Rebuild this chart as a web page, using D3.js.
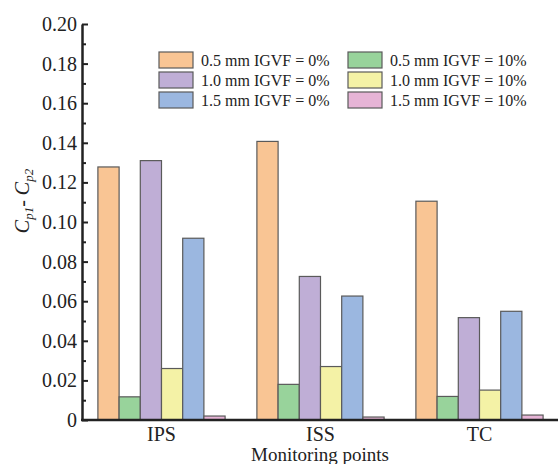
<!DOCTYPE html>
<html>
<head>
<meta charset="utf-8">
<script src="https://cdn.jsdelivr.net/npm/d3@7"></script>
<style>
  body { margin: 0; background: #fff; }
  svg text { font-family: "Liberation Serif", "Times New Roman", serif; fill: #222; }
</style>
</head>
<body>
<div id="chart"></div>
<script>
// monitoring points on the x axis
const categories = ['IPS', 'ISS', 'TC'];

// one array per bar series, in drawing order inside each group
const mm05_igvf0 = [0.1278, 0.1407, 0.1105];
const mm05_igvf10 = [0.0117, 0.0180, 0.0119];
const mm10_igvf0 = [0.1310, 0.0725, 0.0517];
const mm10_igvf10 = [0.0260, 0.0270, 0.0151];
const mm15_igvf0 = [0.0918, 0.0626, 0.0549];
const mm15_igvf10 = [0.0020, 0.0015, 0.0025];

const seriesNames = [
  '0.5 mm IGVF = 0%', '0.5 mm IGVF = 10%',
  '1.0 mm IGVF = 0%', '1.0 mm IGVF = 10%',
  '1.5 mm IGVF = 0%', '1.5 mm IGVF = 10%'
];
const yTicks = [0, 0.02, 0.04, 0.06, 0.08, 0.10, 0.12, 0.14, 0.16, 0.18, 0.20];

const seriesValues = [mm05_igvf0, mm05_igvf10, mm10_igvf0, mm10_igvf10, mm15_igvf0, mm15_igvf10];
const colors = ['#f9c594', '#98d39b', '#bfaed6', '#f4f2a6', '#9bb7e0', '#e6b4d6'];

const w = 558, h = 464;
const mLeft = 82, mRight = 559, mTop = 24, mBottom = 420;

const svg = d3.select('#chart').append('svg')
  .attr('width', w)
  .attr('height', h);

const x0 = d3.scaleBand()
  .domain(categories)
  .range([mLeft, mRight])
  .paddingInner(0.2)
  .paddingOuter(0.1);

const x1 = d3.scaleBand()
  .domain(d3.range(seriesNames.length))
  .range([0, x0.bandwidth()]);

const y = d3.scaleLinear()
  .domain([0, 0.2])
  .range([mBottom, mTop]);

// bars
const groups = svg.selectAll('g.group')
  .data(categories)
  .enter()
  .append('g')
  .attr('class', 'group')
  .attr('transform', d => 'translate(' + x0(d) + ',0)');

groups.selectAll('rect')
  .data((d, ci) => seriesValues.map((vals, si) => ({ si: si, v: vals[ci] })))
  .enter()
  .append('rect')
  .attr('x', d => x1(d.si))
  .attr('y', d => y(d.v))
  .attr('width', x1.bandwidth())
  .attr('height', d => y(0) - y(d.v))
  .attr('fill', d => colors[d.si])
  .attr('stroke', '#5a5a5a')
  .attr('stroke-width', 1.2);

// y axis, minor then major ticks, pointing inward
svg.append('g')
  .attr('transform', 'translate(' + mLeft + ',0)')
  .call(d3.axisLeft(y).tickValues(d3.range(0.01, 0.2, 0.02)).tickSize(-4).tickFormat(''))
  .call(g => g.select('.domain').remove())
  .call(g => g.selectAll('line').attr('stroke', '#222').attr('stroke-width', 2));

const yAxis = svg.append('g')
  .attr('transform', 'translate(' + mLeft + ',0)')
  .call(d3.axisLeft(y).tickValues(yTicks).tickSizeInner(-6).tickSizeOuter(0).tickPadding(5)
    .tickFormat(d => d === 0 ? '0' : d3.format('.2f')(d)));
yAxis.select('.domain').attr('stroke', '#222').attr('stroke-width', 2.5);
yAxis.selectAll('line').attr('stroke', '#222').attr('stroke-width', 2);
yAxis.selectAll('text')
  .attr('x', -5)
  .style('font-size', '20px')
  .style('font-family', '"Liberation Serif", serif')
  .attr('fill', '#222');

// x axis line without ticks
const xAxis = svg.append('g')
  .attr('transform', 'translate(0,' + mBottom + ')')
  .call(d3.axisBottom(x0).tickSize(0).tickPadding(7));
xAxis.select('.domain')
  .attr('d', 'M' + (mLeft - 1) + ',0H' + w)
  .attr('stroke', '#222')
  .attr('stroke-width', 2.5);
xAxis.selectAll('text')
  .style('font-size', '20px')
  .style('font-family', '"Liberation Serif", serif')
  .attr('fill', '#222');

// axis titles
svg.append('text')
  .attr('x', (mLeft + w) / 2)
  .attr('y', 461)
  .attr('text-anchor', 'middle')
  .style('font-size', '19px')
  .text('Monitoring points');

const yTitle = svg.append('text')
  .attr('transform', 'translate(29,201) rotate(-90)')
  .attr('text-anchor', 'middle')
  .style('font-size', '20px');
yTitle.append('tspan').attr('font-style', 'italic').text('C');
yTitle.append('tspan').attr('font-style', 'italic').attr('font-size', '13px').attr('dy', 4).text('p1');
yTitle.append('tspan').attr('dy', -4).text('- ');
yTitle.append('tspan').attr('font-style', 'italic').text('C');
yTitle.append('tspan').attr('font-style', 'italic').attr('font-size', '13px').attr('dy', 4).text('p2');

// legend, two columns of three
const legend = svg.append('g');
const legendItems = legend.selectAll('g')
  .data(seriesNames)
  .enter()
  .append('g')
  .attr('transform', (d, i) => {
    const col = i % 2;
    const row = Math.floor(i / 2);
    return 'translate(' + (col === 0 ? 159 : 348) + ',' + (52 + row * 20) + ')';
  });
legendItems.append('rect')
  .attr('width', 34)
  .attr('height', 16)
  .attr('fill', (d, i) => colors[i])
  .attr('stroke', '#5a5a5a')
  .attr('stroke-width', 1.2);
legendItems.append('text')
  .attr('x', 42)
  .attr('y', 14)
  .style('font-size', '16px')
  .text(d => d);
</script>
</body>
</html>
